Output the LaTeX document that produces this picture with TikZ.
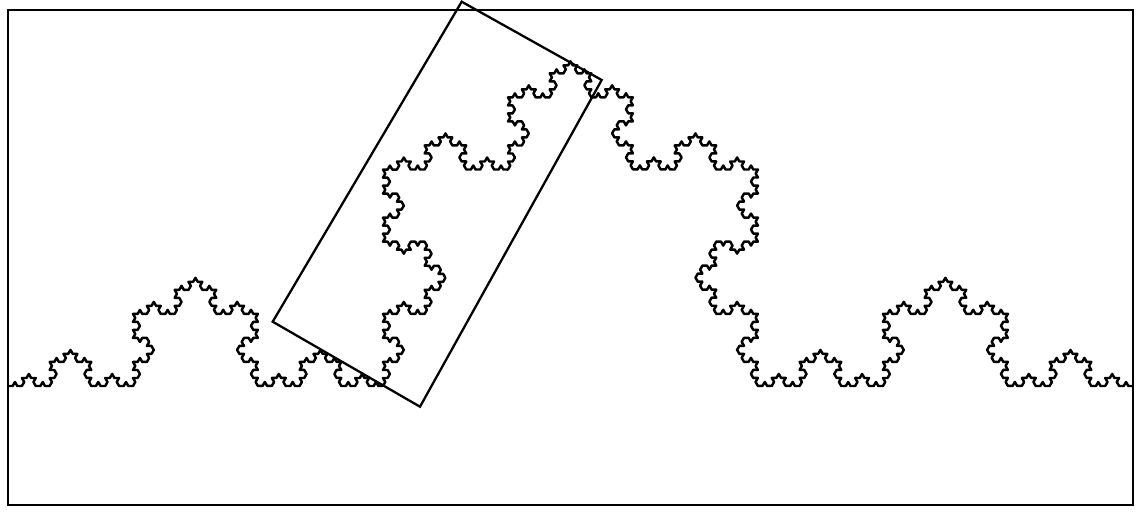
\documentclass[tikz,border=0pt]{standalone}
\usetikzlibrary{decorations.fractals}
\begin{document}
\begin{tikzpicture}[x=0.02cm,y=0.02cm,
  frame/.style={draw=black,line width=1.4pt},
  koch/.style={draw=black,line width=1.4pt,line join=round,decoration={Koch snowflake}},
  box/.style={draw=black,line width=1.3pt,line join=miter}]
\useasboundingbox (0,0) rectangle (1136,512);
\fill[white] (0,0) rectangle (1136,512);
\coordinate (A) at (8,126);
\coordinate (B) at (1133,126);
\draw[koch] decorate{decorate{decorate{decorate{decorate{(A)--(B)}}}}};
\draw[frame] (8,7) rectangle (1133,502);
\coordinate (r1) at (272.7,190.3);
\coordinate (r2) at (420,105.3);
\coordinate (r3) at (601.7,432);
\coordinate (r4) at (461.7,510.3);
\draw[box] (r1)--(r2)--(r3)--(r4)--cycle;
\end{tikzpicture}
\end{document}
